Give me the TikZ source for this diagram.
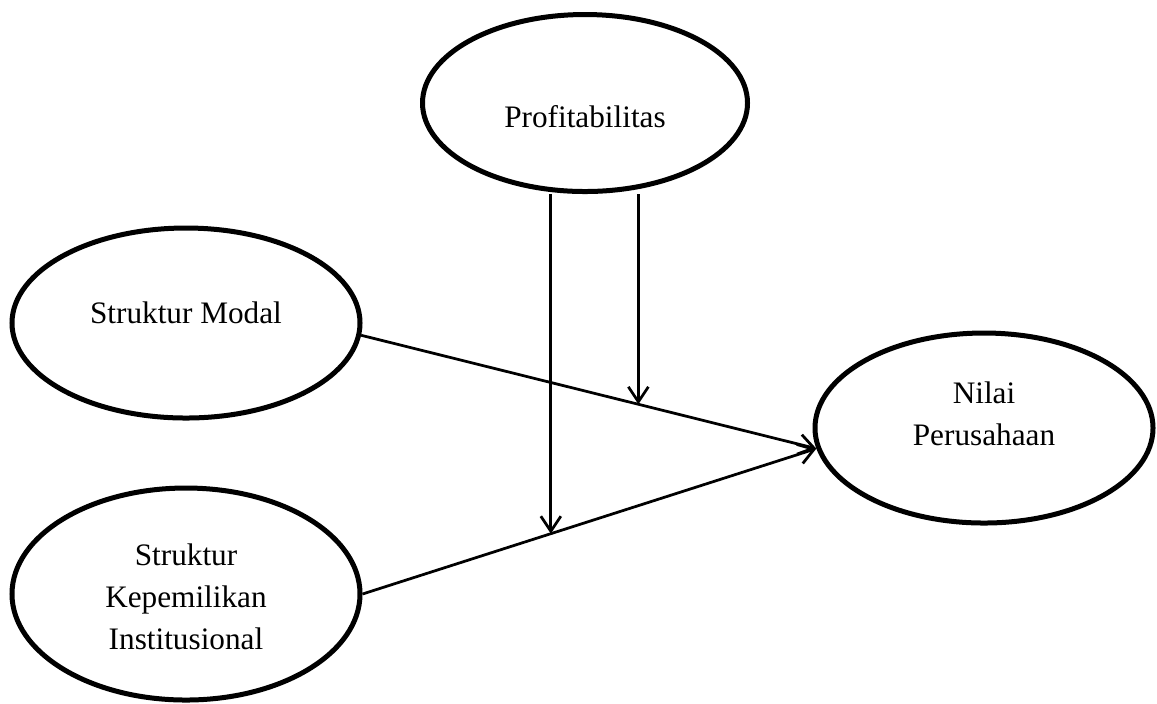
\documentclass[tikz,border=0pt]{standalone}
\usepackage{fontspec}
\setmainfont{Liberation Serif}
\usetikzlibrary{arrows.meta, shapes.geometric, positioning, calc}

\begin{document}
\begin{tikzpicture}[x=0.4pt, y=-0.4pt,
  var/.style={ellipse, draw, line width=2pt, inner sep=0pt},
  txt/.style={font=\fontsize{12.5}{16.8}\selectfont, align=center},
  link/.style={line width=1.1pt, -{Straight Barb[length=6pt, width=8pt]}}]
  \useasboundingbox (0,0) rectangle (1157,703);
  \node[var, minimum width=130pt, minimum height=70.8pt,
    label={[txt, yshift=-5.6pt]center:Profitabilitas}] (prof) at (585,103) {};
  \node[var, minimum width=139.2pt, minimum height=76pt,
    label={[txt, yshift=4pt]center:Struktur Modal}] (sm) at (186,323) {};
  \node[var, minimum width=139.2pt, minimum height=84.8pt,
    label={[txt, yshift=-1pt]center:Struktur\\Kepemilikan\\Institusional}] (ski) at (186,594) {};
  \node[var, minimum width=135.2pt, minimum height=76pt,
    label={[txt, yshift=5.6pt]center:Nilai\\Perusahaan}] (nilai) at (984,428) {};
  % hubungan langsung
  \draw[link] (sm.-4) -- coordinate[pos=0.609] (m1) (nilai.187);
  \draw[link] (ski.east) -- coordinate[pos=0.415] (m2) (nilai.187);
  % moderasi
  \draw[link] (prof.south -| m2) -- (m2);
  \draw[link] (prof.south -| m1) -- (m1);
\end{tikzpicture}
\end{document}
